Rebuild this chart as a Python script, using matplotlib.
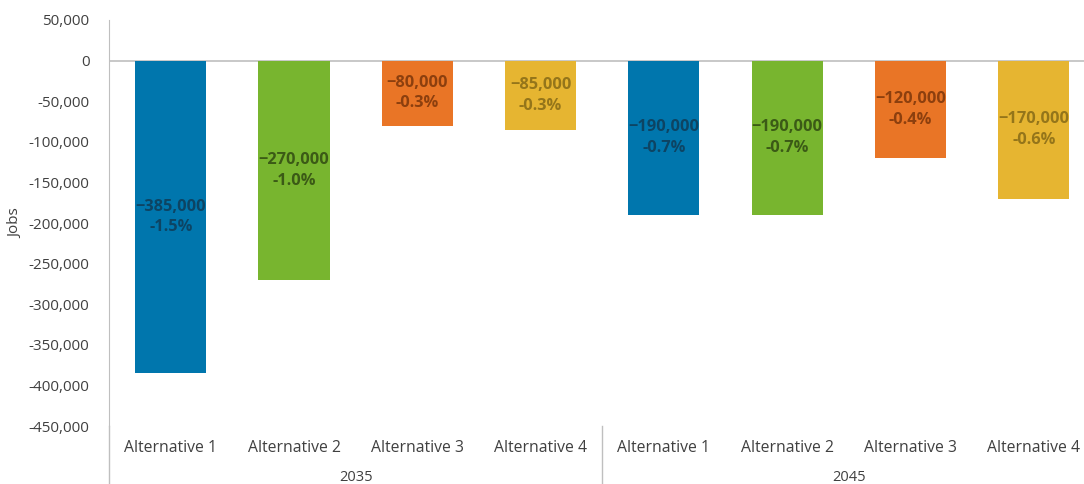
import matplotlib.pyplot as plt
from matplotlib.lines import Line2D

plt.rcParams['font.family'] = ['Open Sans', 'DejaVu Sans']

years = ['2035', '2045']
alternatives = ['Alternative 1', 'Alternative 2', 'Alternative 3', 'Alternative 4']
jobs = [-385000, -270000, -80000, -85000, -190000, -190000, -120000, -170000]
pct = ['-1.5%', '-1.0%', '-0.3%', '-0.3%', '-0.7%', '-0.7%', '-0.4%', '-0.6%']

bar_colors = ['#0076AD', '#78B52F', '#E97526', '#E6B531']
text_colors = ['#0D4463', '#3B5A16', '#8C3F0E', '#94751A']

fig = plt.figure(figsize=(10.84, 4.84), dpi=100)
# plot area runs slightly past the right edge of the image, as in the original
ax = fig.add_axes([0.1006, 0.1198, 0.9100, 0.8389])

n = len(jobs)
xs = list(range(n))
cols = [bar_colors[i % 4] for i in range(n)]
ax.bar(xs, jobs, width=0.576, color=cols, zorder=2)

for i, v in enumerate(jobs):
    ax.text(i, v / 2, f'{v:,}'.replace('-', '\u2212') + '\n' + pct[i],
            ha='center', va='center', fontsize=11.8, fontweight='bold',
            color=text_colors[i % 4], linespacing=1.4, zorder=3)

ax.set_xlim(-0.5, n - 0.5)
ax.set_ylim(-450000, 50000)
ax.set_yticks(range(-450000, 50001, 50000))
ax.set_yticklabels([f'{t:,}' for t in range(-450000, 50001, 50000)])
ax.tick_params(axis='y', length=0, labelsize=11, labelcolor='#404040', pad=14)
ax.set_ylabel('Jobs', fontsize=11, color='#404040', labelpad=4)

ax.set_xticks(xs)
ax.set_xticklabels(alternatives * 2)
ax.tick_params(axis='x', length=0, labelsize=11.3, labelcolor='#404040', pad=10)

for s in ['top', 'right', 'bottom']:
    ax.spines[s].set_visible(False)
ax.spines['left'].set_color('#BFBFBF')
ax.axhline(0, color='#BFBFBF', lw=1.2, zorder=1)

# group labels and separators below the axis
trans = ax.get_xaxis_transform()
for g, yr in enumerate(years):
    ax.text(g * 4 + 1.5, -0.126, yr, transform=trans, ha='center', va='center',
            fontsize=10.5, color='#404040')
ax.add_line(Line2D([-0.5, -0.5], [0, -0.15], transform=trans, color='#BFBFBF',
                   lw=1, clip_on=False))
ax.add_line(Line2D([3.5, 3.5], [0, -0.15], transform=trans, color='#BFBFBF',
                   lw=1, clip_on=False))

fig.savefig('out.png', dpi=100)
